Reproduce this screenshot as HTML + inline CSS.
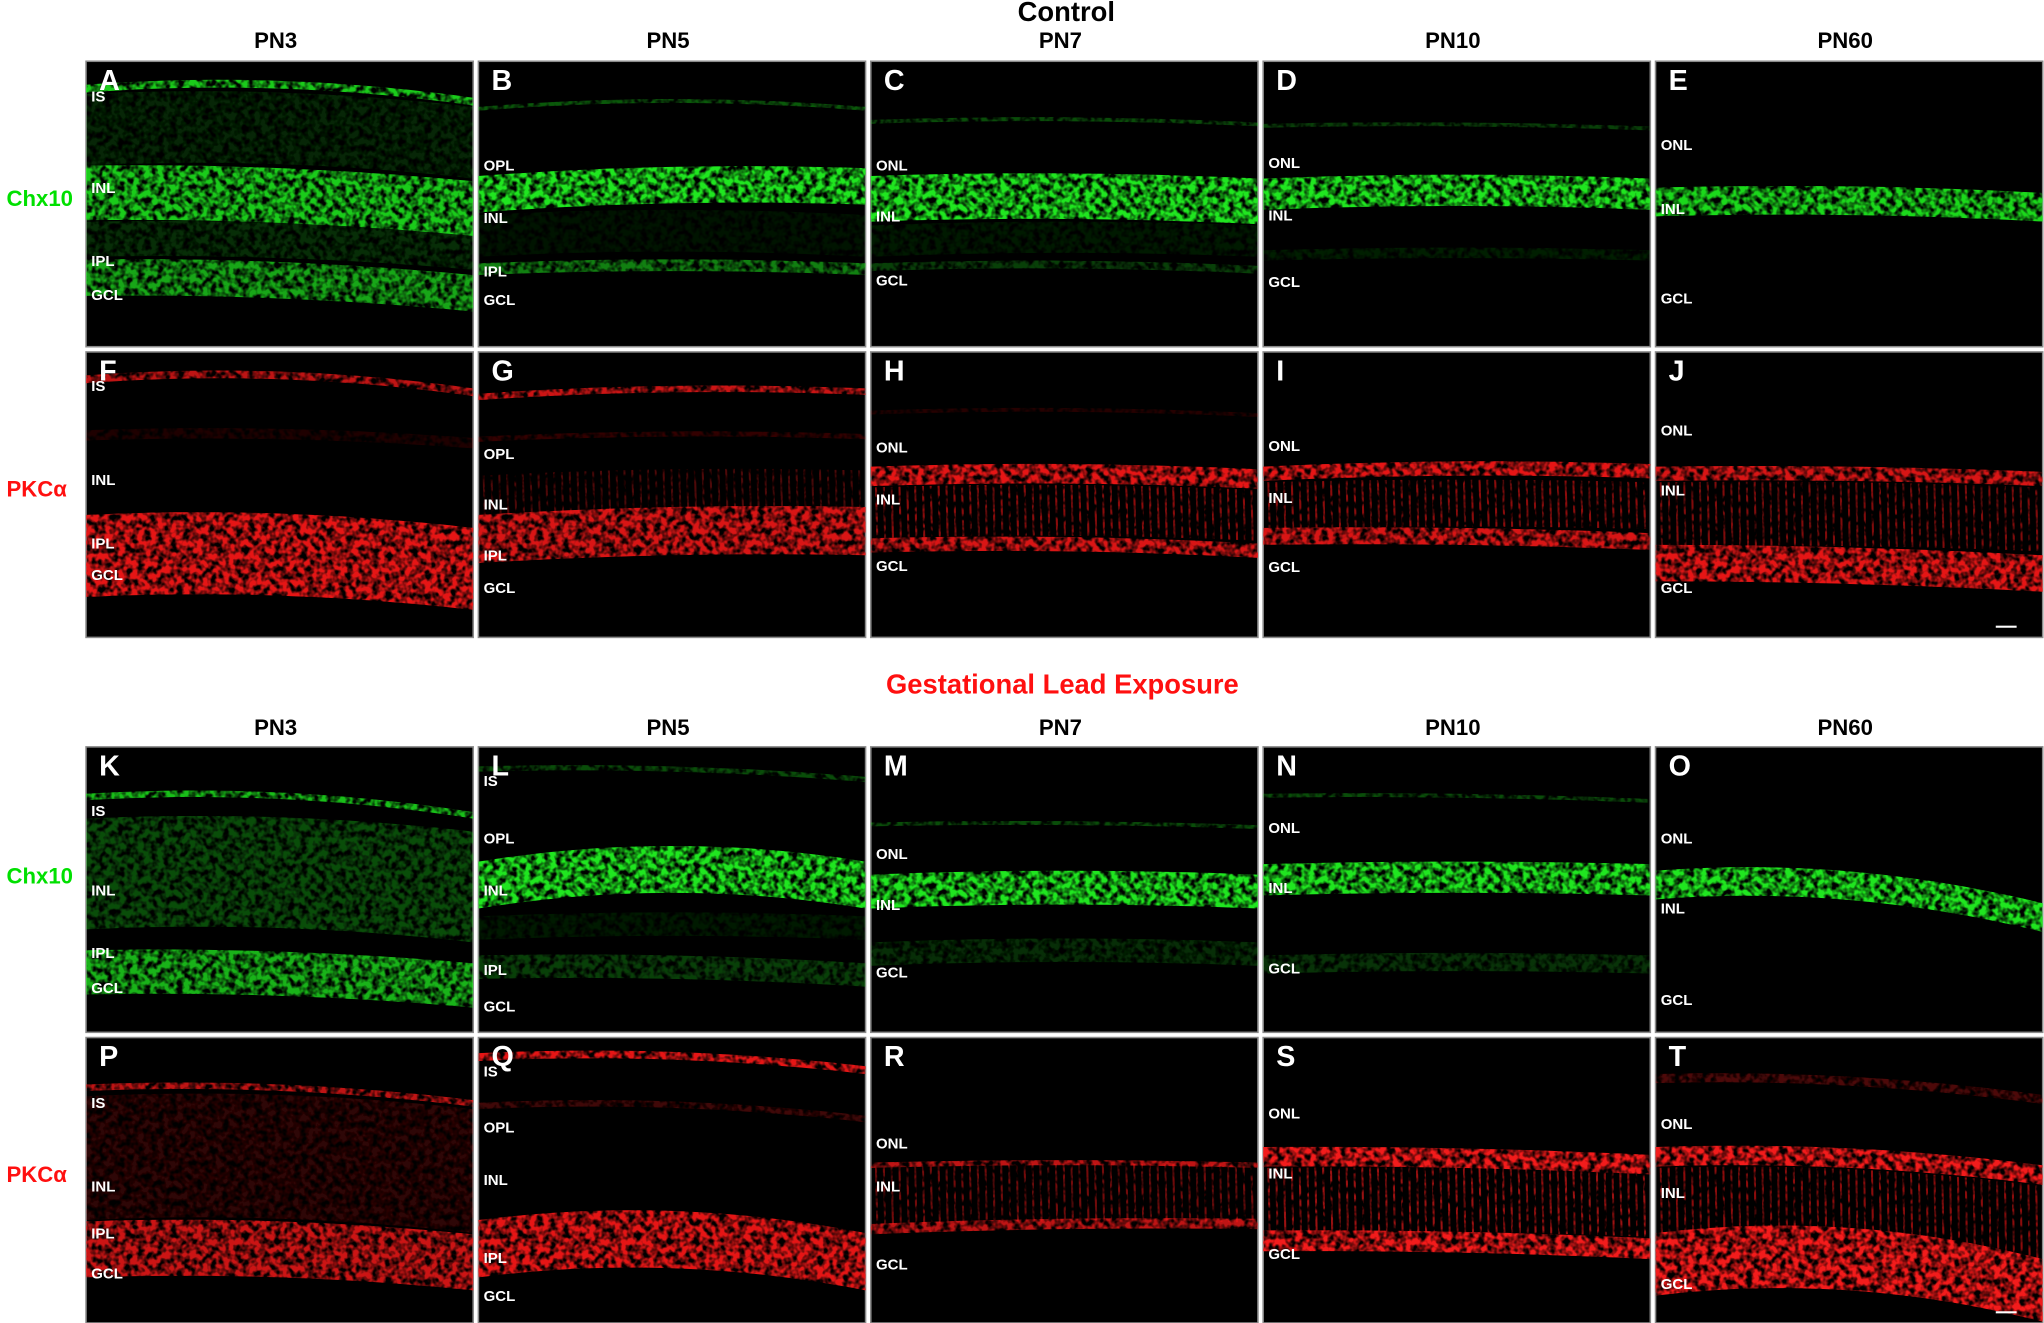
<!DOCTYPE html>
<html><head><meta charset="utf-8">
<style>
html,body{margin:0;padding:0;background:#fff;}
svg{display:block;}
text{font-family:"Liberation Sans",Arial,sans-serif;font-weight:bold;}
</style></head>
<body>
<svg id="fig" width="2044" height="1323" viewBox="0 0 1568 1015" preserveAspectRatio="none" xmlns="http://www.w3.org/2000/svg">
<defs>
<filter id="grain" x="0" y="0" width="1" height="1">
<feTurbulence type="fractalNoise" baseFrequency="0.2" numOctaves="2" seed="3" result="n"/>
<feColorMatrix in="n" type="matrix" values="0 0 0 0 0  0 0 0 0 0  0 0 0 0 0  0 0 0 3.0 -0.9" result="a"/>
<feComposite in="SourceGraphic" in2="a" operator="in"/>
</filter>
</defs>
<text x="818" y="16" font-size="21" text-anchor="middle" fill="#000">Control</text>
<text x="815" y="532" font-size="21" text-anchor="middle" fill="#ff1010">Gestational Lead Exposure</text>
<g id="panels"></g>
</svg>
<script>
const S=document.getElementById('panels');
const NS='http://www.w3.org/2000/svg';
const colX=[66,367,668,969,1270];
const rowY=[47,270,573,796];
const PW=297, PH=219;
const ages=['PN3','PN5','PN7','PN10','PN60'];
const headerY=[31,558];
const rowLabels=[['Chx10',152,'#00e000'],['PKCα',375,'#ff1010'],['Chx10',672,'#00e000'],['PKCα',901,'#ff1010']];
const letters='ABCDEFGHIJKLMNOPQRST';
const layerLabels=[
[['IS',27],['INL',97],['IPL',153],['GCL',179]],
[['OPL',80],['INL',120],['IPL',161],['GCL',183]],
[['ONL',80],['INL',119],['GCL',168]],
[['ONL',78],['INL',118],['GCL',169]],
[['ONL',64],['INL',113],['GCL',182]],
[['IS',26],['INL',98],['IPL',147],['GCL',171]],
[['OPL',78],['INL',117],['IPL',156],['GCL',181]],
[['ONL',73],['INL',113],['GCL',164]],
[['ONL',72],['INL',112],['GCL',165]],
[['ONL',60],['INL',106],['GCL',181]],
[['IS',49],['INL',110],['IPL',158],['GCL',185]],
[['IS',26],['OPL',70],['INL',110],['IPL',171],['GCL',199]],
[['ONL',82],['INL',121],['GCL',173]],
[['ONL',62],['INL',108],['GCL',170]],
[['ONL',70],['INL',124],['GCL',194]],
[['IS',50],['INL',114],['IPL',150],['GCL',181]],
[['IS',26],['OPL',69],['INL',109],['IPL',169],['GCL',198]],
[['ONL',81],['INL',114],['GCL',174]],
[['ONL',58],['INL',104],['GCL',166]],
[['ONL',66],['INL',119],['GCL',189]]
];
const bands=[
[[18,24,0.8,8,10,'b'],[25,80,0.15,6,10,'b'],[80,122,0.8,4,12,'b'],[123,150,0.18,4,10,'b'],[152,180,0.65,4,12,'b']],
[[35,38,0.35,6,0,'b'],[88,116,0.9,4,-6,'b'],[118,150,0.08,4,0,'b'],[155,164,0.5,3,0,'b']],
[[45,48,0.3,3,2,'b'],[88,123,0.9,3,2,'b'],[126,150,0.1,3,0,'b'],[155,161,0.25,3,2,'b']],
[[48,51,0.25,2,2,'b'],[90,114,0.9,3,0,'b'],[145,153,0.12,2,0,'b']],
[[97,119,0.85,3,4,'b']],
[[18,24,0.75,8,10,'b'],[60,68,0.12,4,6,'b'],[125,188,0.9,6,10,'b']],
[[32,37,0.8,4,-4,'b'],[65,69,0.2,3,-2,'b'],[125,162,0.85,3,-6,'b'],[95,127,0.3,3,-4,'s']],
[[45,48,0.15,3,2,'b'],[88,103,0.9,3,2,'b'],[104,143,0.55,3,2,'s'],[143,154,0.85,3,4,'b']],
[[88,99,0.9,3,-2,'b'],[100,136,0.55,2,0,'s'],[135,148,0.85,2,4,'b']],
[[88,99,0.85,2,4,'b'],[100,149,0.5,2,4,'s'],[148,176,0.9,2,8,'b']],
[[36,41,0.75,8,14,'b'],[55,140,0.3,6,10,'b'],[156,190,0.7,4,10,'b']],
[[15,19,0.3,4,8,'b'],[88,124,0.9,12,0,'b'],[130,148,0.1,3,0,'b'],[160,178,0.25,3,6,'b']],
[[58,61,0.3,2,2,'b'],[98,124,0.9,3,0,'b'],[150,168,0.18,3,0,'b']],
[[36,39,0.3,2,4,'b'],[90,114,0.9,2,0,'b'],[160,174,0.2,2,0,'b']],
[[95,117,0.9,12,25,'b']],
[[36,41,0.75,6,12,'b'],[45,140,0.18,6,10,'b'],[141,184,0.8,5,10,'b']],
[[12,18,0.9,6,10,'b'],[50,55,0.25,6,10,'b'],[140,184,0.9,12,10,'b']],
[[96,100,0.75,2,0,'b'],[100,144,0.45,2,-2,'s'],[143,151,0.75,2,-4,'b']],
[[84,99,0.95,2,6,'b'],[100,149,0.6,2,4,'s'],[148,164,0.95,2,6,'b']],
[[28,35,0.3,6,16,'b'],[84,99,0.95,6,14,'b'],[100,158,0.55,6,14,'s'],[150,198,0.95,14,20,'b']]
];
function yAt(y,arc,slope,f){return y+slope*f-arc*4*f*(1-f);}
function el(tag,attrs){const e=document.createElementNS(NS,tag);for(const k in attrs)e.setAttribute(k,attrs[k]);return e;}
ages.forEach((a,c)=>headerY.forEach((hy,h)=>{
  const t=el('text',{x:colX[c]+PW/2-3,y:hy+6,'font-size':17,'text-anchor':'middle',fill:'#000'});
  
  
  t.textContent=a;S.appendChild(t);
}));
rowLabels.forEach(r=>{
  const t=el('text',{x:5,y:r[1]+6,'font-size':17,fill:r[2]});
  
  
  t.textContent=r[0];S.appendChild(t);
});
for(let i=0;i<20;i++){
  const r=Math.floor(i/5),c=i%5;
  const x0=colX[c],y0=rowY[r];
  const green=(r===0||r===2);
  const col=green?'#22ff22':'#ff1a1a';
  const g=el('g',{transform:`translate(${x0},${y0})`});
  
  
  const bg=el('rect',{x:0,y:0,width:PW,height:PH,fill:'#000',stroke:'#8a8a8a','stroke-width':1.2});
  g.appendChild(bg);
  const inner=el('g',{filter:'url(#grain)'});
  bands[i].forEach(b=>{
    const [a0,a1,op,arc,sl,tp]=b;
    if(tp==='b'){
      let d='';const N=30;
      for(let k=0;k<=N;k++){const f=k/N;d+=(k?'L':'M')+(f*PW).toFixed(1)+' '+yAt(a0,arc,sl,f).toFixed(1);}
      for(let k=N;k>=0;k--){const f=k/N;d+='L'+(f*PW).toFixed(1)+' '+yAt(a1,arc,sl,f).toFixed(1);}
      const p=el('path',{d:d+'Z',fill:col,'fill-opacity':op});
      
      
      inner.appendChild(p);
    } else {
      for(let xx=4;xx<PW;xx+=6){const f=xx/PW;
        const l=el('line',{x1:xx,x2:xx+1,y1:yAt(a0,arc,sl,f),y2:yAt(a1,arc,sl,f),stroke:col,'stroke-width':1.6,'stroke-opacity':op});
        
        
        inner.appendChild(l);}
    }
  });
  g.appendChild(inner);
  const L=el('text',{x:10,y:22,'font-size':22,fill:'#fff'});
  
  
  L.textContent=letters[i];g.appendChild(L);
  layerLabels[i].forEach(ll=>{
    const t=el('text',{x:4,y:ll[1]+4,'font-size':11.5,fill:'#fff'});
    
    
    t.textContent=ll[0];g.appendChild(t);
  });
  if(i===9||i===19){
    const sb=el('rect',{x:261,y:PH-9,width:16,height:1.6,fill:'#fff'});
    
    
    g.appendChild(sb);
  }
  S.appendChild(g);
}
</script>
</body></html>
